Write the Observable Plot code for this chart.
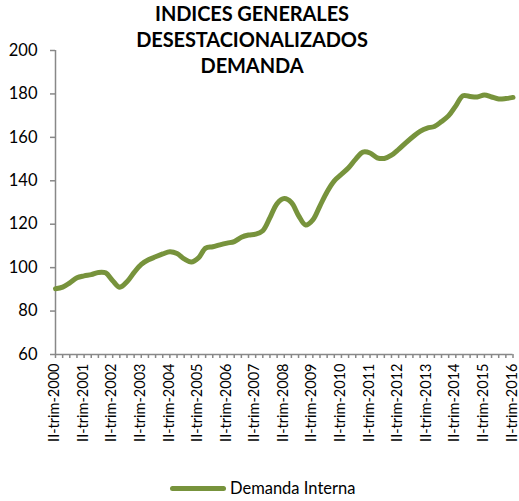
<!DOCTYPE html>
<html>
<head>
<meta charset="utf-8">
<script src="https://cdn.jsdelivr.net/npm/d3@7"></script>
<script src="https://cdn.jsdelivr.net/npm/@observablehq/plot@0.6"></script>
<style>
  html, body { margin: 0; padding: 0; background: #fff; }
  #wrap { position: relative; width: 519px; height: 501px; font-family: Lato, "Open Sans", sans-serif; }
  #title { position: absolute; left: 0; top: 0px; width: 504px; text-align: center; font-weight: 700; font-size: 20px; line-height: 26px; letter-spacing: -0.1px; color: #000; }
  #legend { position: absolute; left: 170px; top: 478px; display: flex; align-items: center; font-size: 16.5px; color: #000; }
  #legend .sw { width: 56px; height: 5px; background: #77933C; border-radius: 3px; margin-right: 4px; }
</style>
</head>
<body>
<div id="wrap">
  <div id="chart"></div>
  <div id="title">INDICES GENERALES<br>DESESTACIONALIZADOS<br>DEMANDA</div>
  <div id="legend"><span class="sw"></span><span>Demanda Interna</span></div>
</div>
<script>
// Quarter names and years (series starts at II-trim-2000, ends at II-trim-2016)
const quarterNames = ["I", "II", "III", "IV"];
const years = [2000, 2001, 2002, 2003, 2004, 2005, 2006, 2007, 2008, 2009, 2010, 2011, 2012, 2013, 2014, 2015, 2016];
// Demanda Interna, seasonally adjusted index, quarterly (65 values)
const demandaInterna = [
  90.3, 91.0, 93.0, 95.3, 96.2, 96.8, 97.8, 97.6, 94.0, 91.0,
  93.5, 97.8, 101.5, 103.6, 105.0, 106.3, 107.3, 106.5, 104.0, 102.6,
  104.5, 109.0, 109.6, 110.5, 111.3, 112.0, 114.0, 115.0, 115.4, 117.0,
  123.0, 129.5, 131.8, 130.0, 124.0, 119.6, 122.0, 128.5, 135.0, 140.0,
  143.0, 146.0, 150.0, 153.2, 152.8, 150.6, 150.3, 151.8, 154.5, 157.5,
  160.3, 162.8, 164.3, 165.0, 167.3, 170.0, 174.5, 179.2, 178.8, 178.6,
  179.5, 178.6, 177.7, 177.9, 178.4
];
const yTicks = [60, 80, 100, 120, 140, 160, 180, 200];

const labels = demandaInterna.map((_, i) => {
  const q = (1 + i) % 4;
  const y = years[0] + Math.floor((i + 1) / 4);
  return `${quarterNames[q]}-trim-${y}`;
});
const data = demandaInterna.map((v, i) => ({label: labels[i], value: v}));
const labeledTicks = labels.filter(l => l.startsWith("II-"));

const chart = Plot.plot({
  width: 519,
  height: 501,
  marginLeft: 55,
  marginRight: 6.5,
  marginTop: 50,
  marginBottom: 147,
  style: {fontFamily: "Lato, 'Open Sans', sans-serif", background: "#fff", color: "#000"},
  x: {type: "point", domain: labels, padding: 0, round: false},
  y: {domain: [60, 200]},
  marks: [
    Plot.axisY({ticks: yTicks, tickSize: 5, tickPadding: 13, fontSize: 16.5, stroke: "#888", strokeWidth: 1.5, strokeOpacity: 1, fill: "#000", label: null}),
    Plot.ruleX([labels[0]], {y1: 60, y2: 200, stroke: "#888", strokeWidth: 1.5}),
    Plot.axisX({ticks: labels, tickSize: 4, tickFormat: () => "", stroke: "#888", strokeWidth: 1.5, strokeOpacity: 1, label: null}),
    Plot.axisX({ticks: labeledTicks, tickSize: 0, tickPadding: 9, tickRotate: -90, fontSize: 14.5, dx: -1, fill: "#000", label: null}),
    Plot.ruleY([60], {stroke: "#888", strokeWidth: 1.5}),
    Plot.line(data, {x: "label", y: "value", stroke: "#77933C", strokeWidth: 5, curve: "catmull-rom", strokeLinecap: "round"})
  ]
});
document.getElementById("chart").appendChild(chart);
</script>
</body>
</html>
